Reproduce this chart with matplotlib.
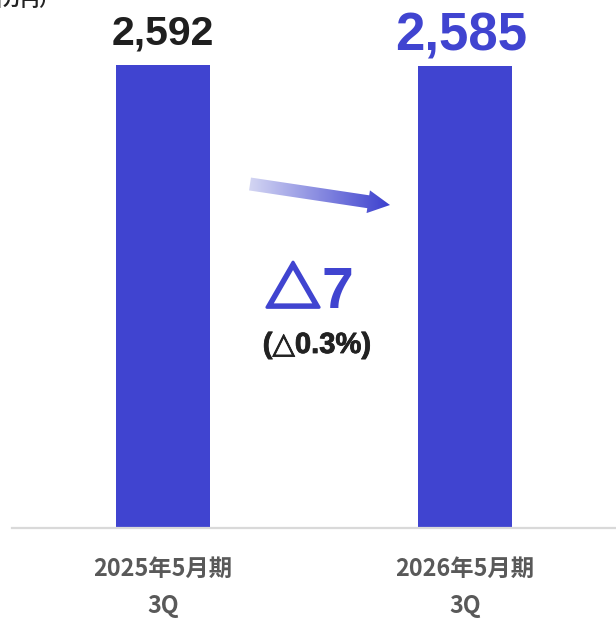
import numpy as np
import matplotlib
matplotlib.use("Agg")
import matplotlib.pyplot as plt
from matplotlib.patches import Polygon
import matplotlib.patheffects as pe

categories = ["2025年5月期\n3Q", "2026年5月期\n3Q"]
values = [2592, 2585]
value_labels = ["2,592", "2,585"]
change_sign = "△"
change_value = "7"
change_pct_label = "(△0.3%)"
unit_label = "（百万円）"

BLUE = "#4044d0"
NUM_FONT = ["Liberation Sans", "DejaVu Sans"]
W, H = 616, 620
fig = plt.figure(figsize=(W / 100, H / 100), dpi=100)

ax = fig.add_axes([12 / W, (H - 528) / H, (W - 12) / W, 528 / H])
x = np.arange(len(values))
ax.bar(x, values, width=0.31, color=BLUE, zorder=2)
ax.set_xlim(-0.5, 1.5)
ax.set_ylim(0, 2956)
for s in ["top", "right", "left"]:
    ax.spines[s].set_visible(False)
ax.spines["bottom"].set_color("#d9d9d9")
ax.spines["bottom"].set_linewidth(1.6)
ax.set_yticks([])
ax.set_xticks(x)
ax.set_xticklabels(categories, family=["Noto Sans CJK JP", "DejaVu Sans"],
                   fontweight="bold", fontsize=16.8, color="#595959", linespacing=1.68)
ax.tick_params(axis="x", length=0, pad=21)

# value labels
ax.annotate(value_labels[0], (x[0], values[0]), xytext=(0, 15), textcoords="offset points",
            ha="center", va="baseline", fontsize=29.5, fontweight="bold",
            family=NUM_FONT, color="#1f1f1f")
ax.annotate(value_labels[1], (x[1], values[1]), xytext=(-2.5, 11), textcoords="offset points",
            ha="center", va="baseline", fontsize=38, fontweight="bold",
            family=NUM_FONT, color=BLUE)

# overlay axes in pixel coordinates for decoration
ov = fig.add_axes([0, 0, 1, 1], facecolor="none")
ov.set_xlim(0, W)
ov.set_ylim(H, 0)
ov.axis("off")

# gradient arrow
S = np.array([250.0, 184.0])
T = np.array([390.0, 205.0])
u = (T - S) / np.linalg.norm(T - S)
n = np.array([-u[1], u[0]])
B = T - u * 22
hw, hh = 6.5, 11.5
pts = np.array([S + n * hw, B + n * hw, B + n * hh, T, B - n * hh, B - n * hw, S - n * hw])
poly = Polygon(pts, closed=True, facecolor="none", edgecolor="none")
ov.add_patch(poly)
c0 = np.array([212, 214, 243]) / 255
c1 = np.array([60, 64, 206]) / 255
t = np.linspace(0, 1, 256)
grad = (c0[None, :] * (1 - t[:, None]) + c1[None, :] * t[:, None])[None, :, :]
xmin, xmax = pts[:, 0].min(), pts[:, 0].max()
ymin, ymax = pts[:, 1].min(), pts[:, 1].max()
im = ov.imshow(grad, extent=[xmin, xmax, ymax, ymin], aspect="auto", interpolation="bilinear")
im.set_clip_path(poly)
ov.set_xlim(0, W)
ov.set_ylim(H, 0)

# change labels
ov.text(293, 308, change_sign, ha="center", va="baseline", fontsize=40, fontweight="bold",
        family=["Noto Sans CJK JP", "DejaVu Sans"], color=BLUE,
        path_effects=[pe.withStroke(linewidth=2.2, foreground=BLUE)])
ov.text(337, 308, change_value, ha="center", va="baseline", fontsize=41, fontweight="bold",
        family=NUM_FONT, color=BLUE)
ov.text(317, 353, change_pct_label, ha="center", va="baseline", fontsize=21, fontweight="bold",
        family=NUM_FONT, color="#222222",
        path_effects=[pe.withStroke(linewidth=0.6, foreground="#222222")])
ov.text(57, 1, unit_label, ha="right", va="center", fontsize=13, fontweight="bold",
        family=["Noto Sans CJK JP", "DejaVu Sans"], color="#222222")

fig.savefig("out.png", dpi=100)
